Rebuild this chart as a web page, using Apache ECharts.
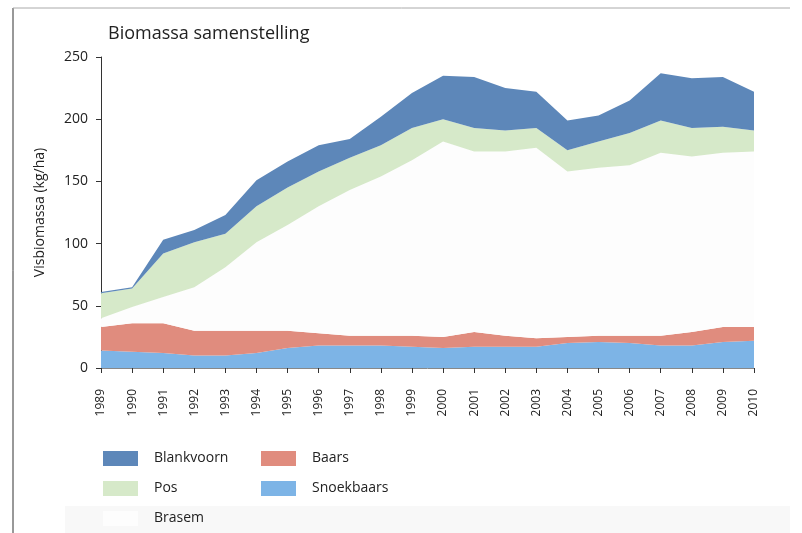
<!DOCTYPE html>
<html>
<head>
<meta charset="utf-8">
<script src="https://cdn.jsdelivr.net/npm/echarts@6/dist/echarts.min.js"></script>
<style>
  html, body { margin: 0; padding: 0; background: #fff; }
  #chart { width: 802px; height: 533px; }
</style>
</head>
<body>
<div id="chart"></div>
<script>
// jaren
const years = ['1989', '1990', '1991', '1992', '1993', '1994', '1995', '1996', '1997', '1998', '1999',
  '2000', '2001', '2002', '2003', '2004', '2005', '2006', '2007', '2008', '2009', '2010']

// biomassa per soort (kg/ha), gestapeld van onder naar boven
const snoekbaars = [14, 13, 12, 10, 10, 12, 16, 18, 18, 18, 17, 16, 17, 17, 17, 20, 21, 20, 18, 18, 21, 22]
const baars = [19, 23, 24, 20, 20, 18, 14, 10, 8, 8, 9, 9, 12, 9, 7, 5, 5, 6, 8, 11, 12, 11]
const brasem = [7, 13, 21, 35, 51, 71, 85, 102, 117, 128, 141, 157, 145, 148, 153, 133, 135, 137, 147, 141, 140, 141]
const pos = [20, 15, 35, 36, 27, 29, 30, 28, 26, 25, 26, 18, 19, 17, 16, 17, 21, 26, 26, 23, 21, 17]
const blankvoorn = [1, 1, 11, 10, 15, 21, 21, 21, 15, 23, 28, 35, 41, 34, 29, 24, 21, 26, 38, 40, 40, 31]

const yTicks = [0, 50, 100, 150, 200, 250]

const cols = {
  Blankvoorn: '#5d87b9',
  Pos: '#d6e9c9',
  Brasem: '#fdfdfd',
  Baars: '#e08c7e',
  Snoekbaars: '#7db4e6'
}

const font = '"Open Sans", "Noto Sans", sans-serif'

function areaSeries(name, data) {
  return {
    name: name,
    type: 'line',
    stack: 'totaal',
    data: data,
    symbol: 'none',
    showSymbol: false,
    lineStyle: { width: 0 },
    itemStyle: { color: cols[name] },
    areaStyle: { color: cols[name], opacity: 1 },
    emphasis: { disabled: true }
  }
}

const chart = echarts.init(document.getElementById('chart'), null, { renderer: 'canvas' })

const legendText = { fontFamily: font, fontSize: 14, color: '#222', padding: [0, 0, 0, 11] }

const option = {
  backgroundColor: '#fff',
  animation: false,
  title: {
    text: 'Biomassa samenstelling',
    left: 103,
    top: 20,
    textStyle: { fontFamily: font, fontSize: 18, fontWeight: 'normal', color: '#222' }
  },
  grid: { left: 101, right: 48, top: 57, bottom: 165, containLabel: false },
  legend: [
    {
      data: ['Blankvoorn', 'Pos', 'Brasem'],
      orient: 'vertical',
      left: 98,
      top: 446,
      itemWidth: 35,
      itemHeight: 15,
      itemGap: 15,
      icon: 'rect',
      textStyle: legendText
    },
    {
      data: ['Baars', 'Snoekbaars'],
      orient: 'vertical',
      left: 256,
      top: 446,
      itemWidth: 35,
      itemHeight: 15,
      itemGap: 15,
      icon: 'rect',
      textStyle: legendText
    }
  ],
  xAxis: {
    type: 'category',
    data: years,
    boundaryGap: false,
    axisLine: { show: true, lineStyle: { color: '#888', width: 1 } },
    axisTick: { show: true, length: 5, lineStyle: { color: '#333' } },
    axisLabel: { rotate: 90, fontFamily: font, fontSize: 12, color: '#222', margin: 21 },
    splitLine: { show: false }
  },
  yAxis: {
    type: 'value',
    min: 0,
    max: 250,
    interval: 50,
    name: 'Visbiomassa (kg/ha)',
    nameLocation: 'middle',
    nameGap: 54,
    nameTextStyle: { fontFamily: font, fontSize: 14, color: '#222' },
    axisLine: { show: true, lineStyle: { color: '#333', width: 1 } },
    axisTick: { show: true, length: 5, lineStyle: { color: '#333' } },
    axisLabel: {
      fontFamily: font, fontSize: 14, color: '#222', margin: 13,
      formatter: v => (yTicks.indexOf(v) >= 0 ? String(v) : '')
    },
    splitLine: { show: false }
  },
  series: [
    areaSeries('Snoekbaars', snoekbaars),
    areaSeries('Baars', baars),
    areaSeries('Brasem', brasem),
    areaSeries('Pos', pos),
    areaSeries('Blankvoorn', blankvoorn)
  ],
  graphic: [
    // kader van de scan
    { type: 'line', shape: { x1: 13, y1: 8, x2: 13, y2: 533 }, style: { stroke: '#333', lineWidth: 1 }, silent: true },
    { type: 'line', shape: { x1: 13, y1: 8, x2: 790, y2: 8 }, style: { stroke: '#aaa', lineWidth: 1 }, silent: true },
    { type: 'rect', shape: { x: 65, y: 506, width: 725, height: 27 }, style: { fill: '#f8f8f8' }, silent: true, z: -1 }
  ]
}

chart.setOption(option)
</script>
</body>
</html>
